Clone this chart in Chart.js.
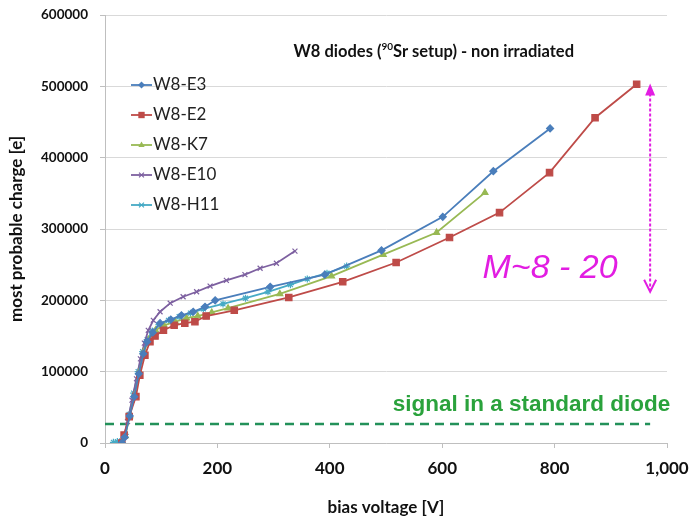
<!DOCTYPE html>
<html>
<head>
<meta charset="utf-8">
<script src="https://cdn.jsdelivr.net/npm/chart.js@4.4.0/dist/chart.umd.min.js"></script>
<style>
  html, body { margin: 0; padding: 0; background: #fff; }
</style>
</head>
<body>
<canvas id="chart" width="691" height="522"></canvas>
<script>
// bias voltage [V] and most probable charge [e] per diode
const e3_v = [30, 35, 44, 52, 60, 68, 75, 85, 98, 117, 136, 157, 178, 196, 294, 391, 492, 601, 691, 792];
const e3_q = [0, 8000, 38000, 65000, 97000, 125000, 142000, 155000, 168000, 173000, 179000, 184000, 191000, 200000, 219000, 236000, 270000, 317000, 381000, 441000];

const e2_v = [30, 34, 43, 55, 62, 71, 80, 89, 104, 123, 142, 160, 180, 230, 327, 423, 518, 613, 702, 791, 872, 946];
const e2_q = [0, 11000, 37000, 65000, 95000, 123000, 142000, 150000, 158000, 165000, 168000, 170000, 178000, 186000, 204000, 226000, 253000, 288000, 323000, 379000, 456000, 503000];

const k7_v = [30, 36, 44, 53, 61, 69, 78, 90, 105, 125, 145, 165, 190, 219, 311, 403, 495, 590, 676];
const k7_q = [0, 10000, 38000, 68000, 100000, 128000, 145000, 158000, 165000, 170000, 175000, 178000, 183000, 189000, 209000, 234000, 264000, 295000, 351000];

const e10_v = [28, 33, 40, 48, 56, 63, 70, 77, 86, 98, 116, 139, 163, 187, 216, 249, 276, 305, 338];
const e10_q = [0, 8000, 30000, 60000, 90000, 118000, 140000, 158000, 172000, 184000, 196000, 205000, 212000, 220000, 228000, 236000, 245000, 252000, 269000];

const h11_v = [15, 22, 30, 36, 43, 51, 59, 67, 75, 84, 96, 113, 132, 152, 175, 210, 250, 290, 330, 360, 395, 430];
const h11_q = [1000, 2000, 3000, 12000, 40000, 70000, 100000, 128000, 145000, 157000, 166000, 172000, 177000, 182000, 188000, 195000, 203000, 212000, 222000, 230000, 238000, 248000];

const series_names = ["W8-E3", "W8-E2", "W8-K7", "W8-E10", "W8-H11"];
const series_colors = ["#4a7ebb", "#be4b48", "#98b954", "#7d60a0", "#46aac5"];
const series_marks = ["rectRot", "rect", "triangle", "crossRot", "star"];

// standard diode signal level and the M~8-20 arrow
const standard_v = [0, 970];
const standard_q = [26600, 26600];
const arrow_v = 970;
const arrow_q = [504000, 212000];

const y_ticks = [0, 100000, 200000, 300000, 400000, 500000, 600000];
const x_ticks = [0, 200, 400, 600, 800, 1000];

function pts(vs, qs) {
  return vs.map((v, i) => ({x: v, y: qs[i]}));
}

const all_v = [e3_v, e2_v, k7_v, e10_v, h11_v];
const all_q = [e3_q, e2_q, k7_q, e10_q, h11_q];

const datasets = all_v.map((vs, i) => ({
  label: series_names[i],
  data: pts(vs, all_q[i]),
  borderColor: series_colors[i],
  backgroundColor: series_colors[i],
  borderWidth: 1.8,
  pointStyle: series_marks[i],
  pointRadius: i == 1 ? 4.5 : 3.5,
  pointBorderWidth: 1.2,
  tension: 0
}));

datasets.push({
  label: "standard",
  data: pts(standard_v, standard_q),
  borderColor: "#23915a",
  borderWidth: 2.5,
  borderDash: [9, 6],
  pointRadius: 0
});

function drawMark(ctx, style, x, y, r, color) {
  ctx.save();
  ctx.fillStyle = color;
  ctx.strokeStyle = color;
  ctx.lineWidth = 1.2;
  ctx.beginPath();
  if (style == "rect") {
    let s = r / Math.SQRT2;
    ctx.rect(x - s, y - s, 2 * s, 2 * s);
    ctx.fill();
  } else if (style == "rectRot") {
    ctx.moveTo(x, y - r); ctx.lineTo(x + r, y); ctx.lineTo(x, y + r); ctx.lineTo(x - r, y);
    ctx.closePath(); ctx.fill();
  } else if (style == "triangle") {
    ctx.moveTo(x, y - r); ctx.lineTo(x + r * 0.9, y + r * 0.6); ctx.lineTo(x - r * 0.9, y + r * 0.6);
    ctx.closePath(); ctx.fill();
  } else if (style == "crossRot") {
    let s = r * 0.7;
    ctx.moveTo(x - s, y - s); ctx.lineTo(x + s, y + s);
    ctx.moveTo(x + s, y - s); ctx.lineTo(x - s, y + s);
    ctx.stroke();
  } else {
    let s = r * 0.7;
    ctx.moveTo(x - r, y); ctx.lineTo(x + r, y);
    ctx.moveTo(x - s, y - s); ctx.lineTo(x + s, y + s);
    ctx.moveTo(x + s, y - s); ctx.lineTo(x - s, y + s);
    ctx.stroke();
  }
  ctx.restore();
}

const overlay = {
  id: "overlay",
  afterDraw(chart) {
    const ctx = chart.ctx;
    const x = chart.scales.x, y = chart.scales.y;
    ctx.save();

    // title with superscript 90
    ctx.fillStyle = "#111";
    ctx.textBaseline = "middle";
    const big = "bold 16.5px Lato", small = "bold 10px Lato";
    const p1 = "W8 diodes (", p2 = "90", p3 = "Sr setup) - non irradiated";
    ctx.font = big; let w1 = ctx.measureText(p1).width, w3 = ctx.measureText(p3).width;
    ctx.font = small; let w2 = ctx.measureText(p2).width;
    let tx = x.getPixelForValue(585) - (w1 + w2 + w3) / 2, ty = y.getPixelForValue(548000);
    ctx.font = big; ctx.textAlign = "left";
    ctx.fillText(p1, tx, ty);
    ctx.font = small; ctx.fillText(p2, tx + w1, ty - 5);
    ctx.font = big; ctx.fillText(p3, tx + w1 + w2, ty);

    // legend
    ctx.font = "17px Lato";
    series_names.forEach((name, i) => {
      let ly = 85 + i * 30;
      ctx.strokeStyle = series_colors[i];
      ctx.lineWidth = 1.8;
      ctx.beginPath(); ctx.moveTo(131, ly); ctx.lineTo(152, ly); ctx.stroke();
      drawMark(ctx, series_marks[i], 141.5, ly, i == 1 ? 4.5 : 3.5, series_colors[i]);
      ctx.fillStyle = "#222";
      ctx.fillText(name, 153, ly);
    });

    // standard diode text
    ctx.fillStyle = "#2aa23c";
    ctx.font = "bold 22.5px 'Liberation Sans'";
    ctx.textAlign = "left";
    ctx.fillText("signal in a standard diode", x.getPixelForValue(512), y.getPixelForValue(53000));

    // multiplication text
    ctx.fillStyle = "#e21de2";
    ctx.font = "italic 34px 'Liberation Sans'";
    ctx.textAlign = "center";
    ctx.fillText("M~8 - 20", x.getPixelForValue(792), y.getPixelForValue(245000));

    // magenta arrow
    let ax = x.getPixelForValue(arrow_v);
    let top = y.getPixelForValue(arrow_q[0]), bot = y.getPixelForValue(arrow_q[1]);
    ctx.strokeStyle = "#e21de2";
    ctx.fillStyle = "#e21de2";
    ctx.lineWidth = 2;
    ctx.setLineDash([3, 2]);
    ctx.beginPath(); ctx.moveTo(ax, top + 10); ctx.lineTo(ax, bot - 1); ctx.stroke();
    ctx.setLineDash([]);
    ctx.beginPath(); ctx.moveTo(ax, top); ctx.lineTo(ax + 5, top + 12); ctx.lineTo(ax - 5, top + 12); ctx.closePath(); ctx.fill();
    ctx.beginPath(); ctx.moveTo(ax - 6, bot - 12); ctx.lineTo(ax, bot); ctx.lineTo(ax + 6, bot - 12); ctx.stroke();

    ctx.restore();
  }
};

new Chart(document.getElementById("chart"), {
  type: "line",
  data: { datasets: datasets },
  options: {
    responsive: false,
    animation: false,
    layout: { padding: { left: 0, right: 24, top: 15, bottom: 0 } },
    plugins: { legend: { display: false }, tooltip: { enabled: false } },
    scales: {
      x: {
        type: "linear",
        min: 0, max: 1000,
        afterBuildTicks: s => { s.ticks = x_ticks.map(v => ({value: v})); },
        afterFit: s => { s.height = 79; s.paddingLeft = 0; s.paddingRight = 0; },
        border: { color: "#bfbfbf" },
        grid: { drawOnChartArea: false, drawTicks: true, tickLength: 5, color: "#bfbfbf" },
        ticks: { color: "#111", font: { family: "Lato", size: 17, weight: "bold" }, padding: 10, maxRotation: 0 },
        title: { display: true, text: "bias voltage [V]", color: "#111", font: { family: "Lato", size: 17, weight: "bold" }, padding: { top: 2 } }
      },
      y: {
        min: 0, max: 600000,
        afterBuildTicks: s => { s.ticks = y_ticks.map(v => ({value: v})); },
        afterFit: s => { s.width = 105; s.paddingTop = 0; s.paddingBottom = 0; },
        border: { color: "#bfbfbf" },
        grid: { color: "#d9d9d9", tickLength: 5, tickColor: "#bfbfbf" },
        ticks: { color: "#111", font: { family: "Lato", size: 13.5, weight: "bold" }, padding: 12, callback: v => String(v) },
        title: { display: true, text: "most probable charge [e]", color: "#111", font: { family: "Lato", size: 17, weight: "bold" }, padding: { top: 6, bottom: 4 } }
      }
    }
  },
  plugins: [overlay]
});
</script>
</body>
</html>
